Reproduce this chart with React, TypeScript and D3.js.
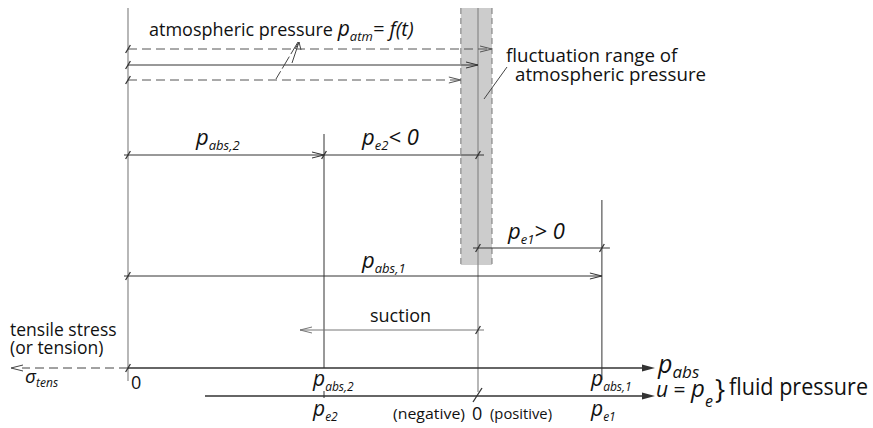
import React from "react";
import * as d3 from "d3";

// Conceptual pressure values (arbitrary units) used by the diagram
const pressureNames = ["zero", "pAbs2", "pAtm", "pAbs1"];
const pressureValues = [0, 56, 100, 135.4];
const atmRange = [95.1, 104];
const atmLevels = [104, 100, 95.1]; // upper dashed, mean, lower dashed
const atmLevelDashed = [true, false, true];

const W = 873;
const H = 428;
const FONT = "'Open Sans', 'Noto Sans', sans-serif";
const LINE = "#333";
const GREY = "#888";

const x = d3.scaleLinear().domain([0, 100]).range([128, 478]);
const P = (name: string) => x(pressureValues[pressureNames.indexOf(name)]);

function Tick({ cx, cy, s = 4 }: { cx: number; cy: number; s?: number }) {
  return <line x1={cx - s * 0.6} y1={cy + s} x2={cx + s * 0.6} y2={cy - s} stroke={LINE} strokeWidth={1.3} />;
}

function OpenArrow({ tx, ty, dir = 1, color = LINE }: { tx: number; ty: number; dir?: number; color?: string }) {
  const l = 12 * dir;
  return <path d={`M${tx - l},${ty - 3} L${tx},${ty} L${tx - l},${ty + 3}`} fill="none" stroke={color} strokeWidth={1} />;
}

function FilledArrow({ tx, ty, dir = 1 }: { tx: number; ty: number; dir?: number }) {
  const l = 13 * dir;
  return <path d={`M${tx - l},${ty - 3.5} L${tx},${ty} L${tx - l},${ty + 3.5} Z`} fill={LINE} />;
}

function PSym({ px, py, sub, size = 22, subSize = 13, rest = "", restSize }: any) {
  return (
    <text x={px} y={py} fontFamily={FONT} fontSize={size} fill="#111">
      <tspan fontStyle="italic">p</tspan>
      <tspan fontStyle="italic" fontSize={subSize} dy={5}>{sub}</tspan>
      {rest ? <tspan dy={-5} fontStyle="italic" fontSize={restSize || size}>{rest}</tspan> : null}
    </text>
  );
}

export default function App() {
  const x0 = P("zero");
  const x2 = P("pAbs2");
  const xa = P("pAtm");
  const x1 = P("pAbs1");
  const bandL = x(atmRange[0]);
  const bandR = x(atmRange[1]);
  const levelYs = [49, 65, 80];
  const axisY = 368;
  const axis2Y = 396;

  return (
    <svg width={W} height={H} style={{ position: "absolute", left: 0, top: 0, background: "#fff" }}>
      {/* grey band */}
      <rect x={bandL} y={8} width={bandR - bandL} height={257} fill="#cccccc" />
      <line x1={bandL} y1={8} x2={bandL} y2={265} stroke="#777" strokeDasharray="6,4" strokeWidth={1} />
      <line x1={bandR} y1={8} x2={bandR} y2={265} stroke="#777" strokeDasharray="6,4" strokeWidth={1} />

      {/* vertical reference lines */}
      <line x1={x0} y1={8} x2={x0} y2={381} stroke={GREY} strokeWidth={1.2} />
      <line x1={xa} y1={8} x2={xa} y2={392} stroke={GREY} strokeWidth={1.2} />
      <line x1={x2} y1={134} x2={x2} y2={axisY} stroke={LINE} strokeWidth={1} />
      <line x1={x2} y1={391} x2={x2} y2={398} stroke={LINE} strokeWidth={1} />
      <line x1={x1} y1={200} x2={x1} y2={380} stroke={LINE} strokeWidth={1} />

      {/* atmospheric pressure levels */}
      {atmLevels.map((v, i) => (
        <g key={i}>
          <line x1={x0} y1={levelYs[i]} x2={x(v)} y2={levelYs[i]} stroke={atmLevelDashed[i] ? "#555" : LINE}
            strokeWidth={1} strokeDasharray={atmLevelDashed[i] ? "9,5" : undefined} />
          <OpenArrow tx={x(v)} ty={levelYs[i]} color={atmLevelDashed[i] ? "#555" : LINE} />
          <Tick cx={x0} cy={levelYs[i]} />
        </g>
      ))}
      <text x={149} y={36} fontFamily={FONT} fontSize={18} fill="#111">
        atmospheric pressure <tspan fontStyle="italic" fontSize={21}>p</tspan>
        <tspan fontStyle="italic" fontSize={13} dy={5}>atm</tspan>
        <tspan dy={-5} fontStyle="italic" fontSize={20}>= f(t)</tspan>
      </text>
      <line x1={298} y1={42} x2={276} y2={79} stroke="#444" strokeWidth={1} strokeDasharray="14,3" />
      <line x1={299} y1={42} x2={292} y2={63} stroke="#444" strokeWidth={1} />
      <path d="M295,49 L299,42 L301,50" fill="none" stroke="#444" strokeWidth={1} />

      <text x={506} y={62} fontFamily={FONT} fontSize={18.7} fill="#111">fluctuation range of</text>
      <text x={515} y={81} fontFamily={FONT} fontSize={18.7} fill="#111">atmospheric pressure</text>
      <line x1={507} y1={67} x2={484} y2={99} stroke="#444" strokeWidth={1} />

      {/* p_abs,2 and p_e2 row */}
      <line x1={x0 - 4} y1={155} x2={xa + 6} y2={155} stroke={LINE} strokeWidth={1} />
      <Tick cx={x0} cy={155} />
      <OpenArrow tx={x2} ty={155} />
      <Tick cx={x2} cy={155} />
      <Tick cx={xa} cy={155} />
      <PSym px={196} py={145} sub="abs,2" />
      <PSym px={362} py={145} sub="e2" rest="< 0" />

      {/* p_e1 row */}
      <line x1={xa - 5} y1={248} x2={x1 + 8} y2={248} stroke={LINE} strokeWidth={1} />
      <Tick cx={xa} cy={248} />
      <Tick cx={x1} cy={248} />
      <PSym px={508} py={239} sub="e1" rest="> 0" />

      {/* p_abs,1 row */}
      <line x1={x0 - 4} y1={276} x2={x1} y2={276} stroke={LINE} strokeWidth={1} />
      <Tick cx={x0} cy={276} />
      <OpenArrow tx={x1} ty={276} />
      <PSym px={362} py={268} sub="abs,1" />

      {/* suction */}
      <text x={370} y={322} fontFamily={FONT} fontSize={18} fill="#111">suction</text>
      <line x1={300} y1={330} x2={484} y2={330} stroke="#777" strokeWidth={1} />
      <OpenArrow tx={300} ty={330} dir={-1} color="#777" />
      <Tick cx={xa} cy={330} />

      {/* main axis p_abs */}
      <line x1={x0} y1={axisY} x2={650} y2={axisY} stroke={LINE} strokeWidth={1.5} />
      <FilledArrow tx={655} ty={axisY} />
      <line x1={x0} y1={axisY} x2={22} y2={axisY} stroke="#444" strokeWidth={1} strokeDasharray="9,5" />
      <OpenArrow tx={11} ty={axisY} dir={-1} color="#444" />
      <Tick cx={x0} cy={axisY} />
      <PSym px={658} py={373} sub="abs" size={25} subSize={17} />
      <text x={131} y={389} fontFamily={FONT} fontSize={18} fill="#111">0</text>
      <PSym px={313} py={386} sub="abs,2" size={21} subSize={12} />
      <PSym px={591} py={386} sub="abs,1" size={21} subSize={12} />

      {/* second axis u = p_e */}
      <line x1={205} y1={axis2Y} x2={650} y2={axis2Y} stroke={LINE} strokeWidth={1.5} />
      <FilledArrow tx={655} ty={axis2Y} />
      <line x1={473} y1={402} x2={482} y2={388} stroke={LINE} strokeWidth={1.3} />
      <text x={656} y={397} fontFamily={FONT} fontSize={21} fill="#111">
        <tspan fontStyle="italic">u</tspan> = <tspan fontStyle="italic" fontSize={24}>p</tspan>
        <tspan fontStyle="italic" fontSize={16} dy={10}>e</tspan>
      </text>
      <text x={715} y={399} fontFamily={FONT} fontSize={27} fill="#111">{"}"}</text>
      <text x={729} y={395} fontFamily={FONT} fontSize={23} fill="#111" textLength={139} lengthAdjust="spacingAndGlyphs">fluid pressure</text>
      <PSym px={313} py={416} sub="e2" size={21} subSize={12} />
      <PSym px={591} py={416} sub="e1" size={21} subSize={12} />
      <text x={393} y={419} fontFamily={FONT} fontSize={15} fill="#111" textLength={72} lengthAdjust="spacingAndGlyphs">(negative)</text>
      <text x={472} y={420} fontFamily={FONT} fontSize={18} fill="#111">0</text>
      <text x={490} y={419} fontFamily={FONT} fontSize={15} fill="#111" textLength={62} lengthAdjust="spacingAndGlyphs">(positive)</text>

      {/* tensile stress */}
      <text x={10} y={336} fontFamily={FONT} fontSize={17.5} fill="#111">tensile stress</text>
      <text x={10} y={354} fontFamily={FONT} fontSize={17.5} fill="#111">(or tension)</text>
      <text x={25} y={383} fontFamily={FONT} fontSize={19} fill="#111">
        <tspan fontStyle="italic">σ</tspan>
        <tspan fontStyle="italic" fontSize={12} dy={4}>tens</tspan>
      </text>
    </svg>
  );
}
